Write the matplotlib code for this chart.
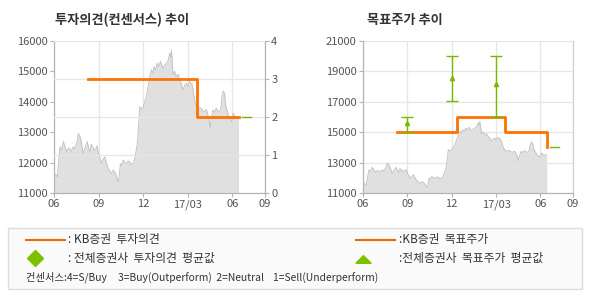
import matplotlib
matplotlib.use('Agg')
import matplotlib.pyplot as plt
from matplotlib.lines import Line2D
from matplotlib.patches import Rectangle

plt.rcParams['font.family'] = ['Noto Sans CJK KR', 'DejaVu Sans']

# x axis: months since 2016-06
tick_pos = [0, 3, 6, 9, 12, 14.2]
tick_labels = ['06', '09', '12', '17/03', '06', '09']

price_month = [0, 0.12, 0.22, 0.32, 0.4, 0.5, 0.63, 0.75, 0.85, 0.97, 1.07, 1.18, 1.3, 1.4, 1.48,
               1.56, 1.63, 1.72, 1.79, 1.88, 1.97, 2.1, 2.24, 2.33, 2.42, 2.5, 2.6, 2.7, 2.82,
               2.9, 3.0, 3.1, 3.2, 3.3, 3.42, 3.55, 3.65, 3.76, 3.87, 3.98, 4.1, 4.2, 4.32,
               4.4, 4.47, 4.56, 4.65, 4.77, 4.88, 5.0, 5.1, 5.2, 5.32, 5.42, 5.5, 5.6, 5.66,
               5.72, 5.77, 5.88, 6.0, 6.1, 6.22, 6.3, 6.38, 6.47, 6.56, 6.65, 6.73, 6.84, 6.94,
               7.05, 7.16, 7.25, 7.34, 7.45, 7.57, 7.68, 7.79, 7.85, 7.9, 7.96, 8.01, 8.12, 8.23,
               8.35, 8.46, 8.57, 8.68, 8.8, 8.9, 9.0, 9.13, 9.22, 9.3, 9.38, 9.46, 9.58, 9.69,
               9.8, 9.91, 10.02, 10.13, 10.25, 10.36, 10.44, 10.51, 10.6, 10.69, 10.8, 10.91,
               11.02, 11.13, 11.22, 11.31, 11.39, 11.47, 11.55, 11.63, 11.72, 11.81, 11.9, 11.97,
               12.03, 12.08, 12.17, 12.26, 12.34, 12.42]
price_value = [11640, 11600, 11530, 12100, 12520, 12400, 12690, 12500, 12350, 12480, 12460, 12380,
               12520, 12450, 12580, 12700, 12960, 12880, 12800, 12550, 12300, 12500, 12690, 12480,
               12350, 12600, 12520, 12400, 12460, 12550, 12300, 12150, 11970, 12100, 12190, 11950,
               11800, 11720, 11640, 11750, 11690, 11550, 11360, 11600, 11970, 11900, 12080, 12000,
               11970, 12050, 12020, 11930, 11970, 12100, 12300, 12600, 12960, 13400, 13840, 13750,
               13840, 14000, 14170, 14400, 14610, 14900, 15050, 14950, 15160, 15050, 15270, 15150,
               15330, 15200, 15110, 15200, 15270, 15350, 15600, 15450, 15710, 15300, 14890, 15000,
               14830, 14900, 14720, 14600, 14390, 14550, 14610, 14500, 14670, 14600, 14560, 14300,
               14060, 13850, 13730, 13800, 13790, 13700, 13680, 13750, 13570, 13400, 13130, 13500,
               13730, 13650, 13790, 13700, 13680, 13750, 14170, 14350, 14280, 13900, 13730, 13600,
               13460, 13400, 13350, 13550, 13620, 13500, 13510, 13480, 13510]

# KB opinion (3=Buy, 2=Neutral) and target price steps
opinion_x = [2.28, 9.6, 12.42]
opinion_y = [3, 2, 2]
target_x = [2.28, 6.33, 9.58, 12.42]
target_y = [15000, 16000, 15000, 14000]

# consensus target price (mean, low, high)
cons_x = [2.95, 6.0, 9.0]
cons_mean = [15600, 18550, 18200]
cons_low = [15000, 17050, 16000]
cons_high = [16000, 20000, 20000]

cur_opinion = 2
cur_target = 14000
cur_x = [12.65, 13.26]

orange = '#ff7200'
green = '#7ab800'
grid_c = '#e6e6e6'
spine_c = '#b4b4b4'
txt_c = '#555555'
fontsize = 8

fig = plt.figure(figsize=(5.9, 3.0), dpi=100)


def style_axes(ax):
    ax.set_xlim(0, 14.2)
    ax.set_xticks(tick_pos)
    ax.set_xticklabels(tick_labels)
    ax.spines['top'].set_visible(False)
    for side in ['left', 'bottom', 'right']:
        ax.spines[side].set_color(spine_c)
        ax.spines[side].set_linewidth(0.9)
    ax.tick_params(colors=spine_c, labelcolor=txt_c, labelsize=fontsize, length=3, width=0.8, pad=1.5)
    ax.xaxis.grid(True, color=grid_c, linewidth=0.9)
    ax.set_axisbelow(True)


# ---- left chart: investment opinion ----
ax1 = fig.add_axes([54 / 590, 107 / 300, 211 / 590, 152 / 300])
ax1.fill_between(price_month, price_value, 11000, color='#e0e0e0', linewidth=0)
ax1.plot(price_month, price_value, color='#c4c4c4', linewidth=0.7)
ax1.set_ylim(11000, 16000)
ax1.set_yticks(range(11000, 16001, 1000))
style_axes(ax1)
ax1.spines['right'].set_visible(False)
ax1.yaxis.grid(False)

ax1r = ax1.twinx()
ax1r.set_ylim(0, 4)
ax1r.set_yticks([0, 1, 2, 3, 4])
ax1r.step(opinion_x, opinion_y, where='post', color=orange, linewidth=2)
ax1r.plot(cur_x, [cur_opinion, cur_opinion], color=green, linewidth=1)
style_axes(ax1r)
ax1r.spines['left'].set_visible(False)
ax1r.spines['bottom'].set_visible(False)
ax1r.yaxis.grid(True, color=grid_c, linewidth=0.9)
ax1r.xaxis.grid(False)
ax1r.tick_params(axis='x', length=0, labelbottom=False)
ax1r.set_zorder(ax1.get_zorder() + 1)
ax1r.patch.set_visible(False)

fig.text(55 / 590, 1 - 20 / 300, '투자의견(컨센서스) 추이', fontsize=9.5, fontweight='bold',
         color='#333333', va='center', ha='left')

# ---- right chart: target price ----
ax2 = fig.add_axes([363 / 590, 107 / 300, 210 / 590, 152 / 300])
ax2.fill_between(price_month, price_value, 11000, color='#e0e0e0', linewidth=0)
ax2.plot(price_month, price_value, color='#c4c4c4', linewidth=0.7)
ax2.step(target_x, target_y, where='post', color=orange, linewidth=2)
ax2.plot(cur_x, [cur_target, cur_target], color=green, linewidth=1)
yerr = [[m - lo for m, lo in zip(cons_mean, cons_low)], [hi - m for m, hi in zip(cons_mean, cons_high)]]
ax2.errorbar(cons_x, cons_mean, yerr=yerr, fmt='^', color=green, ecolor=green, markersize=3,
             capsize=4, elinewidth=1, capthick=1)
ax2.set_ylim(11000, 21000)
ax2.set_yticks(range(11000, 21001, 2000))
style_axes(ax2)
ax2.yaxis.grid(True, color=grid_c, linewidth=0.9)
ax2.spines['right'].set_color('#d0d0d0')

fig.text(367 / 590, 1 - 20 / 300, '목표주가 추이', fontsize=9.5, fontweight='bold',
         color='#333333', va='center', ha='left')

# ---- legend box ----
fig.patches.append(Rectangle((8 / 590, 1 - 289 / 300), 574 / 590, 61 / 300, transform=fig.transFigure,
                             facecolor='#fafafa', edgecolor='#dddddd', linewidth=1))
leg_fs = 8.5
leg_c = '#333333'
flat_tri = [(-1, -0.5), (1, -0.5), (0, 0.5), (-1, -0.5)]
fig.add_artist(Line2D([26 / 590, 65 / 590], [1 - 240 / 300] * 2, color='#ec6a00', linewidth=1.5))
fig.text(68 / 590, 1 - 240 / 300, ': KB증권  투자의견', fontsize=leg_fs, color=leg_c, va='center')
fig.add_artist(Line2D([35 / 590], [1 - 258 / 300], marker='D', color='#7cc000', markersize=8, linestyle=''))
fig.text(68 / 590, 1 - 258 / 300, ': 전체증권사  투자의견  평균값', fontsize=leg_fs, color=leg_c, va='center')
fig.text(26 / 590, 1 - 277 / 300, '컨센서스:4=S/Buy     3=Buy(Outperform)  2=Neutral    1=Sell(Underperform)',
         fontsize=7.4, color=leg_c, va='center')
fig.add_artist(Line2D([356 / 590, 395 / 590], [1 - 240 / 300] * 2, color='#ec6a00', linewidth=1.5))
fig.text(399 / 590, 1 - 240 / 300, ':KB증권  목표주가', fontsize=leg_fs, color=leg_c, va='center')
fig.add_artist(Line2D([363 / 590], [1 - 259 / 300], marker=flat_tri, color='#7cc000', markersize=11,
                      linestyle=''))
fig.text(399 / 590, 1 - 258 / 300, ':전체증권사  목표주가  평균값', fontsize=leg_fs, color=leg_c, va='center')

fig.savefig('out.png', dpi=100)
